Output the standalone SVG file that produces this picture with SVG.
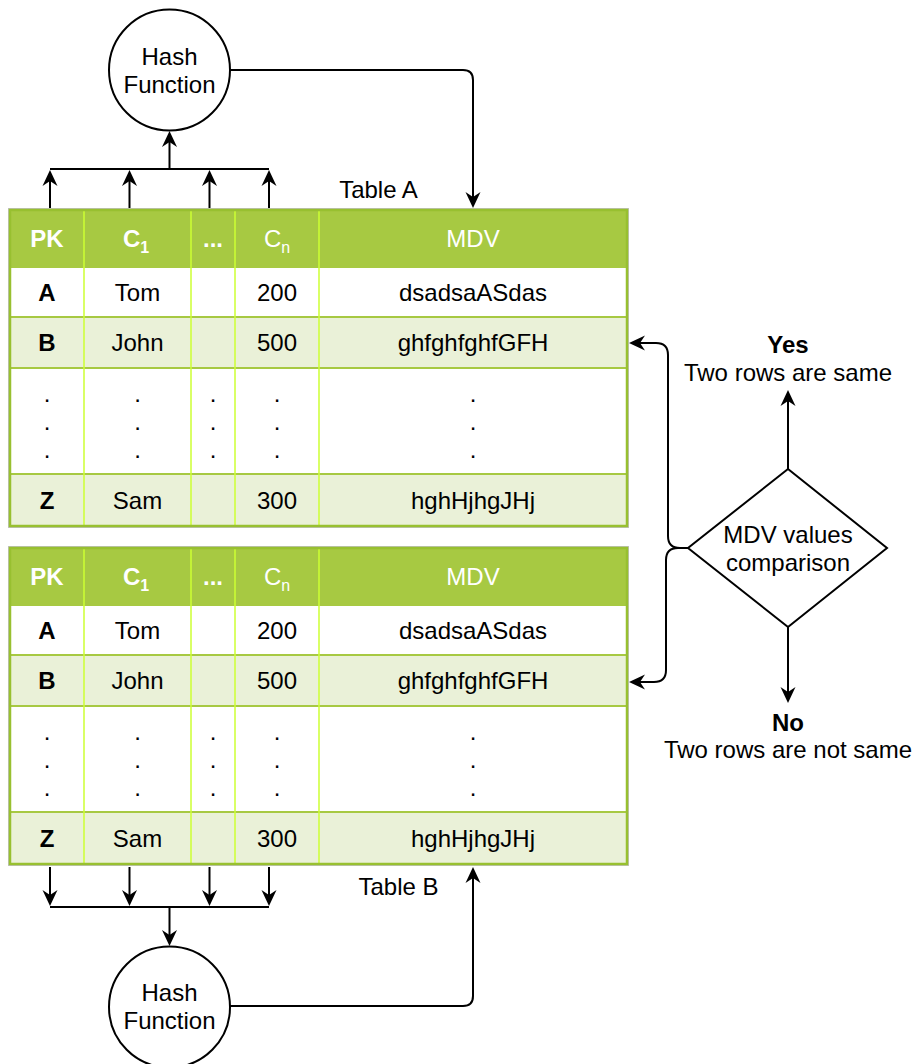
<svg xmlns="http://www.w3.org/2000/svg" width="914" height="1064" viewBox="0 0 914 1064">
  <style>
    text { font-family: "Liberation Sans", Arial, Helvetica, sans-serif; font-size: 24px; fill: #000; }
    .c { text-anchor: middle; }
    .b { font-weight: bold; }
    .hd { fill: #fff; }
    .lbl { font-size: 24px; }
    .sub { font-size: 16px; }
    .shadow { fill: #c2c2c2; }
    .hdr { fill: #a7c942; }
    .odd { fill: #ffffff; }
    .even { fill: #eaf1d8; }
    .hline { stroke: #a7c942; stroke-width: 2; }
    .vline { stroke: #ccff33; stroke-width: 1.5; }
    .frame { fill: none; stroke: #98c030; stroke-width: 2.5; }
    .shape { fill: #fff; stroke: #000; stroke-width: 2; }
    .edge { fill: none; stroke: #000; stroke-width: 2; marker-end: url(#arrow); }
    .seg { fill: none; stroke: #000; stroke-width: 2; }
  </style>
  <defs>
    <!-- classic filled arrowhead; path ends at the notch, tip lies 11px further -->
    <marker id="arrow" viewBox="-17 -9 18 18" refX="-11" refY="0" markerWidth="18" markerHeight="18" markerUnits="userSpaceOnUse" orient="auto">
      <path d="M0,0 L-16,-7.5 L-11,0 L-16,7.5 Z" fill="#000"/>
    </marker>
  </defs>

  <!-- upper hash function -->
  <g id="hash-a">
    <circle class="shape" cx="169.5" cy="70" r="60.5"/>
    <text class="c" x="169.5" y="65">Hash</text>
    <text class="c" x="169.5" y="93">Function</text>
  </g>

  <!-- Table A -->
  <g id="table-a">
    <rect class="shadow" x="8" y="208" width="621" height="320"/>
    <rect class="hdr" x="10" y="210" width="617" height="57"/>
    <rect class="odd" x="10" y="267" width="617" height="50"/>
    <rect class="even" x="10" y="317" width="617" height="51"/>
    <rect class="odd" x="10" y="368" width="617" height="106"/>
    <rect class="even" x="10" y="474" width="617" height="52"/>
    <g class="hline">
      <line x1="10" y1="267" x2="627" y2="267"/>
      <line x1="10" y1="317" x2="627" y2="317"/>
      <line x1="10" y1="368" x2="627" y2="368"/>
      <line x1="10" y1="474" x2="627" y2="474"/>
    </g>
    <g class="vline">
      <line x1="84" y1="210" x2="84" y2="526"/>
      <line x1="191" y1="210" x2="191" y2="526"/>
      <line x1="235" y1="210" x2="235" y2="526"/>
      <line x1="319" y1="210" x2="319" y2="526"/>
    </g>
    <rect class="frame" x="10" y="210" width="617" height="316"/>
    <!-- header -->
    <text class="c b hd" x="47" y="247">PK</text>
    <text class="c b hd" x="136" y="247">C<tspan class="sub" dy="6">1</tspan></text>
    <text class="c b hd" x="213" y="247">...</text>
    <text class="c hd" x="277" y="247">C<tspan class="sub" dy="6">n</tspan></text>
    <text class="c hd" x="473" y="247">MDV</text>
    <!-- rows -->
    <text class="c b" x="47" y="300.5">A</text>
    <text class="c" x="137.5" y="300.5">Tom</text>
    <text class="c" x="277" y="300.5">200</text>
    <text class="c" x="473" y="300.5">dsadsaASdas</text>
    <text class="c b" x="47" y="351">B</text>
    <text class="c" x="137.5" y="351">John</text>
    <text class="c" x="277" y="351">500</text>
    <text class="c" x="473" y="351">ghfghfghfGFH</text>
    <g class="c">
      <text x="47" y="402">.</text><text x="47" y="430">.</text><text x="47" y="458">.</text>
      <text x="137.5" y="402">.</text><text x="137.5" y="430">.</text><text x="137.5" y="458">.</text>
      <text x="213" y="402">.</text><text x="213" y="430">.</text><text x="213" y="458">.</text>
      <text x="277" y="402">.</text><text x="277" y="430">.</text><text x="277" y="458">.</text>
      <text x="473" y="402">.</text><text x="473" y="430">.</text><text x="473" y="458">.</text>
    </g>
    <text class="c b" x="47" y="508.5">Z</text>
    <text class="c" x="137.5" y="508.5">Sam</text>
    <text class="c" x="277" y="508.5">300</text>
    <text class="c" x="473" y="508.5">hghHjhgJHj</text>
  </g>
  <text id="label-a" class="c lbl" x="378.5" y="198">Table A</text>

  <!-- Table B -->
  <g id="table-b" transform="translate(0,338)">
    <rect class="shadow" x="8" y="208" width="621" height="320"/>
    <rect class="hdr" x="10" y="210" width="617" height="57"/>
    <rect class="odd" x="10" y="267" width="617" height="50"/>
    <rect class="even" x="10" y="317" width="617" height="51"/>
    <rect class="odd" x="10" y="368" width="617" height="106"/>
    <rect class="even" x="10" y="474" width="617" height="52"/>
    <g class="hline">
      <line x1="10" y1="267" x2="627" y2="267"/>
      <line x1="10" y1="317" x2="627" y2="317"/>
      <line x1="10" y1="368" x2="627" y2="368"/>
      <line x1="10" y1="474" x2="627" y2="474"/>
    </g>
    <g class="vline">
      <line x1="84" y1="210" x2="84" y2="526"/>
      <line x1="191" y1="210" x2="191" y2="526"/>
      <line x1="235" y1="210" x2="235" y2="526"/>
      <line x1="319" y1="210" x2="319" y2="526"/>
    </g>
    <rect class="frame" x="10" y="210" width="617" height="316"/>
    <text class="c b hd" x="47" y="247">PK</text>
    <text class="c b hd" x="136" y="247">C<tspan class="sub" dy="6">1</tspan></text>
    <text class="c b hd" x="213" y="247">...</text>
    <text class="c hd" x="277" y="247">C<tspan class="sub" dy="6">n</tspan></text>
    <text class="c hd" x="473" y="247">MDV</text>
    <text class="c b" x="47" y="300.5">A</text>
    <text class="c" x="137.5" y="300.5">Tom</text>
    <text class="c" x="277" y="300.5">200</text>
    <text class="c" x="473" y="300.5">dsadsaASdas</text>
    <text class="c b" x="47" y="351">B</text>
    <text class="c" x="137.5" y="351">John</text>
    <text class="c" x="277" y="351">500</text>
    <text class="c" x="473" y="351">ghfghfghfGFH</text>
    <g class="c">
      <text x="47" y="402">.</text><text x="47" y="430">.</text><text x="47" y="458">.</text>
      <text x="137.5" y="402">.</text><text x="137.5" y="430">.</text><text x="137.5" y="458">.</text>
      <text x="213" y="402">.</text><text x="213" y="430">.</text><text x="213" y="458">.</text>
      <text x="277" y="402">.</text><text x="277" y="430">.</text><text x="277" y="458">.</text>
      <text x="473" y="402">.</text><text x="473" y="430">.</text><text x="473" y="458">.</text>
    </g>
    <text class="c b" x="47" y="508.5">Z</text>
    <text class="c" x="137.5" y="508.5">Sam</text>
    <text class="c" x="277" y="508.5">300</text>
    <text class="c" x="473" y="508.5">hghHjhgJHj</text>
  </g>
  <text id="label-b" class="c lbl" x="398.5" y="895">Table B</text>

  <!-- lower hash function -->
  <g id="hash-b">
    <circle class="shape" cx="169.5" cy="1007" r="60.5"/>
    <text class="c" x="169.5" y="1001">Hash</text>
    <text class="c" x="169.5" y="1029">Function</text>
  </g>

  <!-- comparison decision -->
  <g id="compare">
    <polygon class="shape" points="788,469 887,548 788,627 688,548"/>
    <text class="c" x="788" y="543">MDV values</text>
    <text class="c" x="788" y="571">comparison</text>
  </g>
  <g id="result-yes">
    <text class="c b" x="788" y="353">Yes</text>
    <text class="c" x="788" y="381">Two rows are same</text>
  </g>
  <g id="result-no">
    <text class="c b" x="788" y="731">No</text>
    <text class="c" x="788" y="758">Two rows are not same</text>
  </g>

  <!-- connectors -->
  <g id="connectors">
    <!-- Table A columns into upper hash -->
    <path class="edge" d="M50,208 V181"/>
    <path class="edge" d="M129.5,208 V181"/>
    <path class="edge" d="M209.5,208 V181"/>
    <path class="edge" d="M269,208 V181"/>
    <path class="seg" d="M50,169 H269"/>
    <path class="edge" d="M169.5,169 V142"/>
    <path class="edge" d="M230,70 H463 Q473,70 473,80 V197"/>
    <!-- Table B columns into lower hash -->
    <path class="edge" d="M50,867 V895"/>
    <path class="edge" d="M129.5,867 V895"/>
    <path class="edge" d="M209.5,867 V895"/>
    <path class="edge" d="M269,867 V895"/>
    <path class="seg" d="M50,907 H269"/>
    <path class="edge" d="M169.5,907 V935"/>
    <path class="edge" d="M230,1006 H463 Q473,1006 473,996 V878"/>
    <!-- decision to both MDV cells -->
    <path class="edge" d="M688,548 H680 Q668,548 668,536 V355 Q668,343 656,343 H640"/>
    <path class="edge" d="M688,548 H678 Q666,548 666,560 V670 Q666,682 654,682 H640"/>
    <!-- decision outcomes -->
    <path class="edge" d="M788,469 V401"/>
    <path class="edge" d="M788,627 V692"/>
  </g>
</svg>
